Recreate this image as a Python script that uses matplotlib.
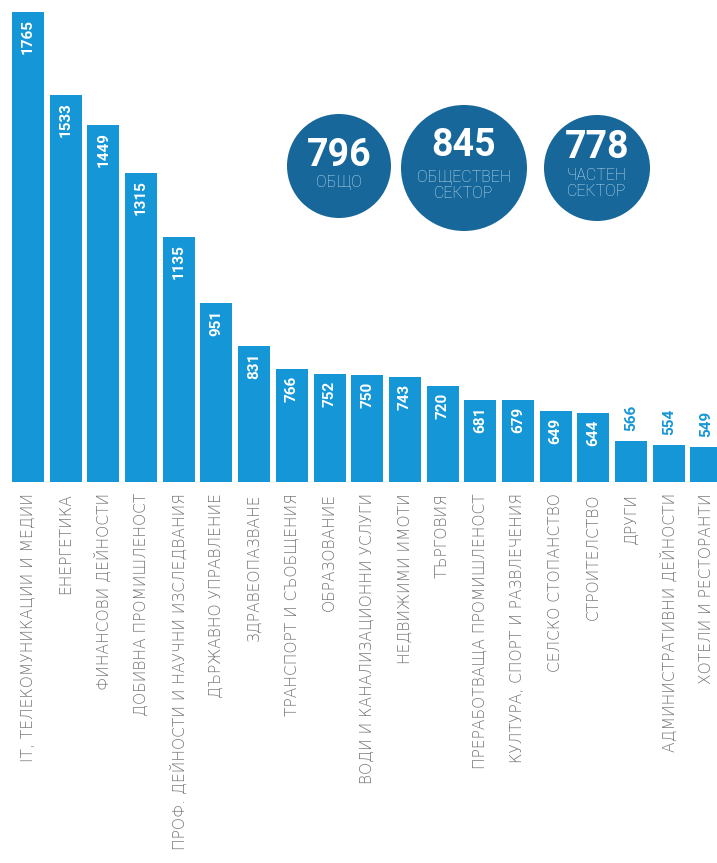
import matplotlib
matplotlib.use("Agg")
import matplotlib.pyplot as plt
from matplotlib.patches import Circle

# ---------------------------------------------------------
# DATA
# ---------------------------------------------------------
categories = [
    "IT, ТЕЛЕКОМУНИКАЦИИ И МЕДИИ",
    "ЕНЕРГЕТИКА",
    "ФИНАНСОВИ ДЕЙНОСТИ",
    "ДОБИВНА ПРОМИШЛЕНОСТ",
    "ПРОФ. ДЕЙНОСТИ И НАУЧНИ ИЗСЛЕДВАНИЯ",
    "ДЪРЖАВНО УПРАВЛЕНИЕ",
    "ЗДРАВЕОПАЗВАНЕ",
    "ТРАНСПОРТ И СЪОБЩЕНИЯ",
    "ОБРАЗОВАНИЕ",
    "ВОДИ И КАНАЛИЗАЦИОННИ УСЛУГИ",
    "НЕДВИЖИМИ ИМОТИ",
    "ТЪРГОВИЯ",
    "ПРЕРАБОТВАЩА ПРОМИШЛЕНОСТ",
    "КУЛТУРА, СПОРТ И РАЗВЛЕЧЕНИЯ",
    "СЕЛСКО СТОПАНСТВО",
    "СТРОИТЕЛСТВО",
    "ДРУГИ",
    "АДМИНИСТРАТИВНИ ДЕЙНОСТИ",
    "ХОТЕЛИ И РЕСТОРАНТИ",
]
values = [1765, 1533, 1449, 1315, 1135, 951, 831, 766, 752, 750,
          743, 720, 681, 679, 649, 644, 566, 554, 549]

summary_values = [796, 845, 778]
summary_labels = ["ОБЩО", "ОБЩЕСТВЕН\nСЕКТОР", "ЧАСТЕН\nСЕКТОР"]

# ---------------------------------------------------------
# STYLE
# ---------------------------------------------------------
BAR = "#1596d6"
DARK = "#17679a"
GREY = "#747474"
SUB = "#c4e2f1"

W, H = 717, 863
fig = plt.figure(figsize=(W / 100, H / 100), dpi=100)
fig.patch.set_facecolor("white")

# bar axes: baseline at y=482 px from top
base_px = 482
ax = fig.add_axes([0, 1 - base_px / H, 1, base_px / H])
x = list(range(len(values)))
ax.bar(x, values, width=0.85, color=BAR, linewidth=0)
ax.set_xlim(-0.743, 18.28)
ax.set_ylim(450, 1800)

for s in ax.spines.values():
    s.set_visible(False)
ax.set_yticks([])
ax.set_xticks(x)
ax.set_xticklabels(categories, rotation=90, fontsize=11.2, color=GREY,
                   family="DejaVu Sans", fontweight="light")
ax.tick_params(axis="x", length=0, pad=8)

# value labels
for i, v in enumerate(values):
    if v > 600:
        ax.annotate(str(v), (i, v), xytext=(0, -5), textcoords="offset points",
                    rotation=90, ha="center", va="top", color="white",
                    fontsize=11, fontweight="bold", family="Roboto")
    else:
        ax.annotate(str(v), (i, v), xytext=(0, 7), textcoords="offset points",
                    rotation=90, ha="center", va="bottom", color=BAR,
                    fontsize=11, fontweight="bold", family="Roboto")

# ---------------------------------------------------------
# SUMMARY CIRCLES (overlay in pixel coordinates)
# ---------------------------------------------------------
ov = fig.add_axes([0, 0, 1, 1])
ov.set_xlim(0, W)
ov.set_ylim(H, 0)
ov.axis("off")
ov.patch.set_alpha(0)

centers = [(339, 166), (464, 168), (597, 168)]
radii = [52, 63, 53]
num_base = [166, 156, 158]
sub_base = [187, 182, 180]

for (cx, cy), r, val, lab, nb, sb in zip(centers, radii, summary_values,
                                         summary_labels, num_base, sub_base):
    ov.add_patch(Circle((cx, cy), r, color=DARK, linewidth=0))
    ov.text(cx, nb, str(val), ha="center", va="baseline", color="white",
            fontsize=27, fontweight="bold", family="Roboto")
    for k, line in enumerate(lab.split("\n")):
        ov.text(cx, sb + k * 16, line, ha="center", va="baseline", color=SUB,
                fontsize=11.5, fontweight="light", family="Roboto")

fig.savefig("out.png", dpi=100, facecolor="white")
